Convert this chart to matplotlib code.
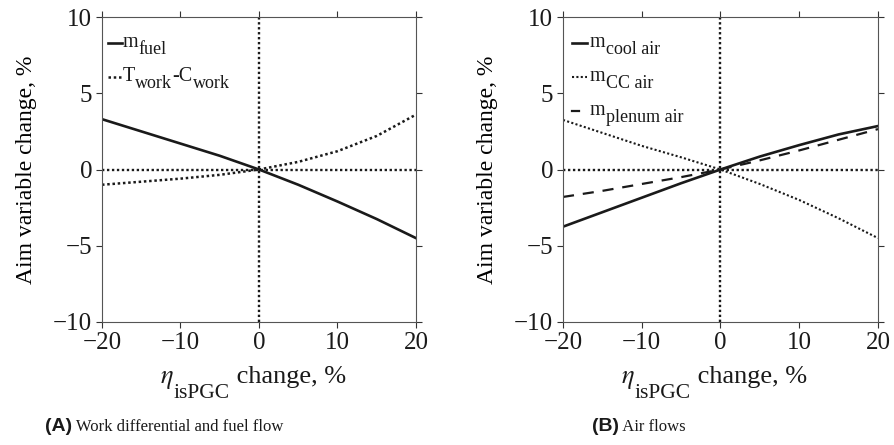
import matplotlib
matplotlib.use("Agg")
import matplotlib.pyplot as plt
from matplotlib.lines import Line2D

plt.rcParams['font.family'] = ['Liberation Serif', 'DejaVu Serif']
plt.rcParams['mathtext.fontset'] = 'stix'

eta_change = [-20, -15, -10, -5, 0, 5, 10, 15, 20]

# panel A
m_fuel = [3.3, 2.5, 1.7, 0.9, 0.0, -1.0, -2.1, -3.25, -4.5]
t_minus_c = [-1.0, -0.8, -0.6, -0.35, 0.0, 0.5, 1.2, 2.2, 3.6]

# panel B
m_cool_air = [-3.75, -2.8, -1.85, -0.9, 0.0, 0.85, 1.6, 2.3, 2.85]
m_cc_air = [3.25, 2.4, 1.55, 0.8, 0.0, -0.95, -2.0, -3.2, -4.5]
m_plenum_air = [-1.8, -1.4, -0.95, -0.5, 0.0, 0.6, 1.25, 1.95, 2.65]

legend_a = [[('m', 0), ('fuel', 1)], [('T', 0), ('work', 1), ('-C', 0), ('work', 1)]]
legend_b = [[('m', 0), ('cool air', 1)], [('m', 0), ('CC air', 1)], [('m', 0), ('plenum air', 1)]]
captions = [('(A)', 'Work differential and fuel flow'), ('(B)', 'Air flows')]

W, H = 895, 445
fig = plt.figure(figsize=(8.95, 4.45), dpi=100)
ax_a = fig.add_axes([102 / W, 1 - 322 / H, 314 / W, 305 / H])
ax_b = fig.add_axes([563 / W, 1 - 322 / H, 315 / W, 305 / H])
renderer = fig.canvas.get_renderer()

ink = '#1a1a1a'
solid = dict(color=ink, lw=1.9, ls='-')
dots = dict(color=ink, lw=1.8, ls=(0, (1, 1.1)))
dash = dict(color=ink, lw=1.6, ls=(0, (5, 4)))

ax_a.plot(eta_change, m_fuel, **solid)
ax_a.plot(eta_change, t_minus_c, **dots)
ax_b.plot(eta_change, m_cool_air, **solid)
ax_b.plot(eta_change, m_cc_air, **dict(dots, lw=1.5))
ax_b.plot(eta_change, m_plenum_air, **dash)


def pieces(x, y, parts):
    # parts: (text, size, drop, extra kwargs); x, y pixels from top-left
    for s, size, dy, kw in parts:
        t = fig.text(x / W, 1 - (y + dy) / H, s, fontsize=size, va='baseline',
                     ha='left', color=ink, **kw)
        x += t.get_window_extent(renderer=renderer).width
    return x


def handle(x0, x1, y, style):
    fig.add_artist(Line2D([x0 / W, x1 / W], [1 - y / H, 1 - y / H],
                          transform=fig.transFigure, **style))


for ax, x_off in ((ax_a, 0), (ax_b, 461)):
    ax.axhline(0, color=ink, lw=1.7, ls=(0, (1, 1.1)), zorder=1)
    ax.axvline(0, color=ink, lw=1.7, ls=(0, (1, 1.1)), zorder=1)
    ax.set_xlim(-20, 20)
    ax.set_ylim(-10, 10)
    ax.set_xticks([-20, -10, 0, 10, 20])
    ax.set_yticks([-10, -5, 0, 5, 10])
    ax.tick_params(direction='out', length=4, width=0.8, labelsize=18, pad=3,
                   top=True, right=True, colors='#333333', labelcolor=ink)
    for s in ax.spines.values():
        s.set_linewidth(0.8)
        s.set_color('#555555')
    ax.set_ylabel('Aim variable change, %', fontsize=17)
    ax.yaxis.set_label_coords(-65 / 314, 0.5)
    pieces(160 + x_off, 383, [(r'$\eta$', 19, 0, {}), ('isPGC', 15.5, 15, {}),
                              (' change, %', 19, 0, {})])

# legends
rows = zip(legend_a, [solid, dots], [47, 81])
for parts, style, y in rows:
    handle(108, 122, y - 4, style)
    pieces(123, y, [(s, 14.5 if sub == 0 else 13, 7 * sub, {}) for s, sub in parts])
rows = zip(legend_b, [solid, dict(dots, lw=1.5), dict(dash, ls='-')], [47, 81, 115])
for i, (parts, style, y) in enumerate(rows):
    handle(572, 579 if i == 2 else 587, y - 4, style)
    pieces(590, y, [(s, 14.5 if sub == 0 else 13, 7 * sub, {}) for s, sub in parts])

for (tag, text), x0 in zip(captions, [45, 592]):
    pieces(x0, 431, [(tag, 14, 0, dict(fontweight='bold',
                                       family=['Liberation Sans Narrow', 'Liberation Sans'])),
                     (' ' + text, 12, 0, {})])

fig.savefig('out.png', dpi=100)
